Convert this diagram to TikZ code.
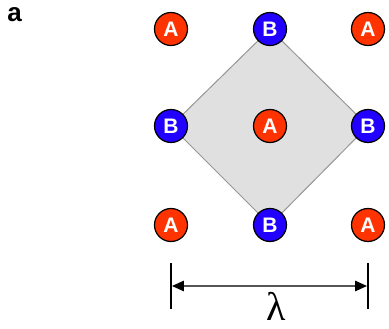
\documentclass[tikz,border=0pt]{standalone}
\usepackage{fontspec}
\setsansfont{Liberation Sans}
\newfontfamily\lamfont{Liberation Serif}
\usetikzlibrary{backgrounds,arrows.meta}

\definecolor{atomA}{RGB}{255,51,0}
\definecolor{atomB}{RGB}{34,0,255}
\definecolor{cellfill}{RGB}{224,224,224}
\definecolor{celledge}{RGB}{150,150,150}
\definecolor{barline}{RGB}{85,85,85}

\tikzset{every picture/.style={line width=0.75pt}}
\tikzset{
	siteA/.style={circle, draw=black, line width=1.2pt, fill=atomA, minimum size=33pt, inner sep=0pt,
		text=white, font=\sffamily\bfseries\fontsize{21}{21}\selectfont},
	siteB/.style={siteA, fill=atomB},
	bartip/.tip={Triangle[length=12pt,width=10pt,color=black]},
}

\begin{document}
\begin{tikzpicture}[x=1pt,y=1pt,yscale=-1]
	\useasboundingbox (0,0) rectangle (389,329);

	% Panel label
	\node [anchor=base, font=\sffamily\bfseries\fontsize{26}{26}\selectfont] (panel) at (14.5,22) {a};

	%Lattice sites
	\node[siteA] (a1) at (171,29) {A};
	\node[siteB] (b1) at (270,29) {B};
	\node[siteA] (a2) at (368,29) {A};
	\node[siteB] (b2) at (171,126) {B};
	\node[siteA] (a3) at (270,126) {A};
	\node[siteB] (b3) at (368,126) {B};
	\node[siteA] (a4) at (171,225) {A};
	\node[siteB] (b4) at (270,225) {B};
	\node[siteA] (a5) at (368,225) {A};

	%Unit cell
	\begin{pgfonlayer}{background}
		\draw [draw=celledge, fill=cellfill, line width=1pt] (b1.center) -- (b3.center) -- (b4.center) -- (b2.center) -- cycle ;
	\end{pgfonlayer}

	%Scale bar
	\coordinate (l1) at (171,263) ;
	\coordinate (l2) at (368,263) ;
	\draw [line width=1.4pt] (l1) -- ++(0,46) ;
	\draw [line width=1.4pt] (l2) -- ++(0,46) ;
	\draw [draw=barline, line width=2.4pt, bartip-bartip] ([xshift=0.8pt,yshift=23pt]l1) -- ([xshift=-0.8pt,yshift=23pt]l2) ;
	\node [text=black, font=\lamfont\fontsize{40}{40}\selectfont, anchor=base, inner sep=0pt] (lam) at (276,320) {λ};

\end{tikzpicture}
\end{document}
